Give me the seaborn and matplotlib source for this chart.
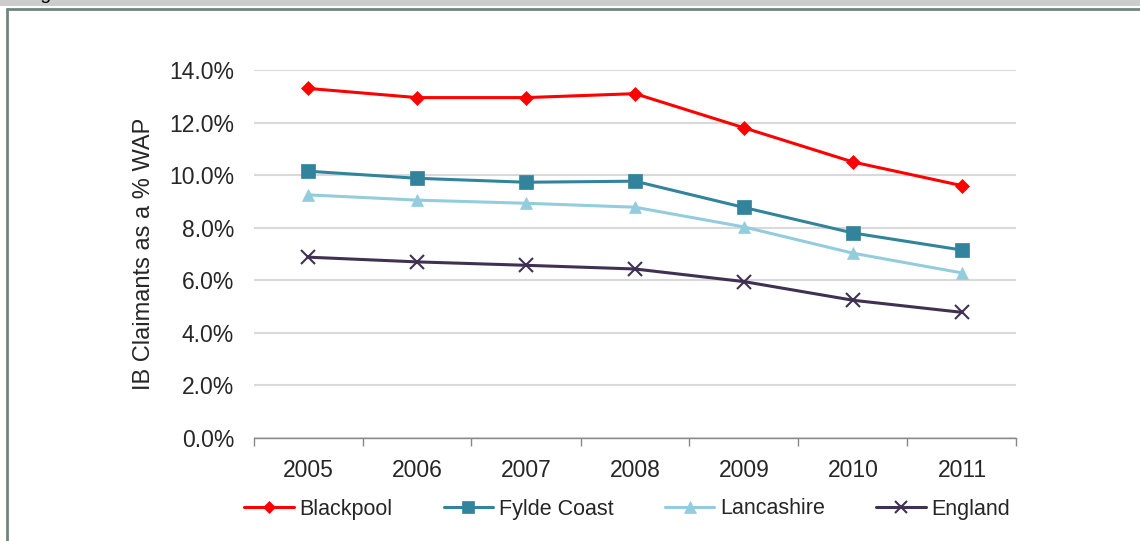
import matplotlib
matplotlib.use("Agg")
import matplotlib.pyplot as plt
from matplotlib.patches import Rectangle
from matplotlib.lines import Line2D
import seaborn as sns
import pandas as pd
import numpy as np

years = ["2005", "2006", "2007", "2008", "2009", "2010", "2011"]
blackpool = [13.3, 12.95, 12.95, 13.1, 11.8, 10.5, 9.6]
fylde_coast = [10.15, 9.88, 9.73, 9.77, 8.77, 7.8, 7.15]
lancashire = [9.25, 9.05, 8.93, 8.78, 8.03, 7.03, 6.28]
england = [6.88, 6.7, 6.57, 6.43, 5.95, 5.24, 4.78]

series_names = ["Blackpool", "Fylde Coast", "Lancashire", "England"]
series_values = [blackpool, fylde_coast, lancashire, england]
colors = {"Blackpool": "#FF0000", "Fylde Coast": "#31849B",
          "Lancashire": "#93CDDD", "England": "#403152"}
markers = {"Blackpool": "D", "Fylde Coast": "s", "Lancashire": "^", "England": "x"}
msizes = {"Blackpool": 7, "Fylde Coast": 10, "Lancashire": 9, "England": 10}

rows = []
for name, vals in zip(series_names, series_values):
    for i, (y, v) in enumerate(zip(years, vals)):
        rows.append({"pos": i, "year": y, "series": name, "value": v})
df = pd.DataFrame(rows)

sns.set_theme(style="white")
plt.rcParams["font.family"] = ["Liberation Sans", "DejaVu Sans"]

fig = plt.figure(figsize=(11.4, 5.41), dpi=100)
ax = fig.add_axes([253.5 / 1140, 1 - 438 / 541, (1016.5 - 253.5) / 1140, (438 - 70) / 541])

for name in series_names:
    sub = df[df.series == name]
    sns.lineplot(data=sub, x="pos", y="value", ax=ax, color=colors[name],
                 marker=markers[name], markersize=msizes[name],
                 markeredgecolor=colors[name], markeredgewidth=1.5 if name == "England" else 0.5,
                 linewidth=2.2, label=name, legend=False, zorder=3)

ax.set_xlim(-0.5, len(years) - 0.5)
ax.set_ylim(0, 14)
ax.set_yticks(np.arange(0, 14.01, 2))
ax.set_yticklabels([f"{v:.1f}%" for v in np.arange(0, 14.01, 2)], fontsize=16.5)
ax.set_xticks(range(len(years)))
ax.set_xticklabels(years, fontsize=16.5)
ax.set_xticks(np.arange(-0.5, len(years), 1), minor=True)
ax.tick_params(axis="x", which="major", length=0, pad=15)
ax.tick_params(axis="x", which="minor", length=6, width=1, color="#888888", direction="out", bottom=True)
ax.tick_params(axis="y", length=0, pad=14)
ax.grid(axis="y", color="#D9D9D9", linewidth=1.5)
ax.set_axisbelow(True)
for s in ["top", "right", "left"]:
    ax.spines[s].set_visible(False)
ax.spines["bottom"].set_color("#888888")
ax.spines["bottom"].set_linewidth(1)
ax.set_xlabel("")
ax.set_ylabel("IB Claimants as a % WAP", fontsize=17, labelpad=10)

handles = [Line2D([0], [0], color=colors[n], marker=markers[n], markersize=msizes[n] - 1,
                  markeredgecolor=colors[n], markeredgewidth=1.5 if n == "England" else 0.5,
                  linewidth=2.2) for n in series_names]
fig.legend(handles, series_names, loc="center", bbox_to_anchor=(627 / 1140, 1 - 509 / 541),
           ncol=4, frameon=False, fontsize=15.5, handlelength=2.3, columnspacing=2.4,
           handletextpad=0.25)

# Frame decorations
fig.patches.append(Rectangle((0, 1 - 6 / 541), 1, 6 / 541, transform=fig.transFigure,
                             facecolor="#CCCCCC", edgecolor="none", zorder=0))
fig.lines.append(Line2D([7 / 1140, 1], [1 - 9 / 541, 1 - 9 / 541], transform=fig.transFigure,
                        color="#6F877A", linewidth=2))
fig.lines.append(Line2D([7 / 1140, 7 / 1140], [0, 1 - 9 / 541], transform=fig.transFigure,
                        color="#6F877A", linewidth=2))
fig.text(24 / 1140, 1 + 1 / 541, "Figure", fontsize=14, va="baseline", ha="left", color="black")

fig.savefig("out.png", dpi=100)
